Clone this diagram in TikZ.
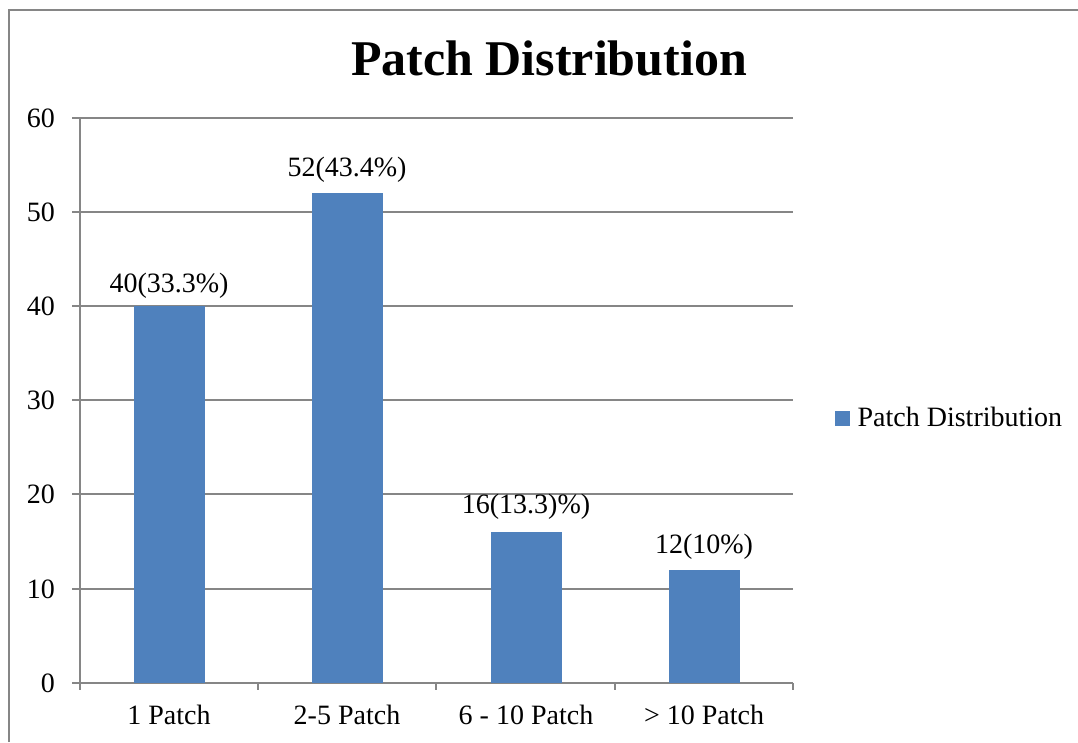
\documentclass[tikz,border=0pt]{standalone}
\usepackage{fontspec}
\setmainfont{Liberation Serif}
\usepackage{xcolor}
\usetikzlibrary{positioning}

\definecolor{barblue}{RGB}{79,129,189}
\definecolor{gridgray}{RGB}{134,134,134}

\begin{document}
\begin{tikzpicture}[x=1pt,y=-1pt,
  font=\fontsize{28}{32}\selectfont,
  bar/.style={fill=barblue,draw=none,anchor=south,minimum width=71pt,inner sep=0pt,outer sep=0pt},
  axisline/.style={draw=gridgray,line width=1.5pt},
  ylab/.style={anchor=east,inner sep=0pt},
  vallab/.style={anchor=base,inner sep=0pt}]
\useasboundingbox (0,0) rectangle (1078,742);

% outer frame
\draw[axisline] (9,742) -- (9,10) -- (1078,10);

\draw node (title) at (549,75) [anchor=base,font=\fontsize{50}{56}\selectfont\bfseries]{Patch Distribution};

% grid and value axis
\foreach \v/\y in {0/683,10/589,20/494,30/400,40/306,50/212,60/118}{
  \draw[axisline] (72,\y) -- (793,\y);
  \draw node (y\v) at (55,\y) [ylab]{\v};
}
\draw[axisline] (80,118) -- (80,690);
\foreach \x in {258,436,615,793}
  \draw[axisline] (\x,683) -- (\x,690);

\draw node (b1) at (169,683) [bar,minimum height=376.7pt]{};
\draw node (b2) at (347,683) [bar,minimum height=489.7pt]{};
\draw node (b3) at (526,683) [bar,minimum height=150.7pt]{};
\draw node (b4) at (704,683) [bar,minimum height=113pt]{};

\node (v1) [above=14pt of b1,vallab]{40(33.3\%)};
\node (v2) [above=17pt of b2,vallab]{52(43.4\%)};
\node (v3) [above=19pt of b3,vallab]{16(13.3)\%)};
\node (v4) [above=17pt of b4,vallab]{12(10\%)};

\draw node (c1) at (169,724) [vallab]{1 Patch};
\draw node (c2) at (347,724) [vallab]{2-5 Patch};
\draw node (c3) at (526,724) [vallab]{6 - 10 Patch};
\draw node (c4) at (704,724) [vallab]{> 10 Patch};

% legend
\draw node (key) at (835,418) [fill=barblue,anchor=west,minimum size=15pt,inner sep=0pt]{};
\node (keytext) [right=7pt of key,anchor=base west,yshift=-8pt,inner sep=0pt]{Patch Distribution};
\end{tikzpicture}
\end{document}
